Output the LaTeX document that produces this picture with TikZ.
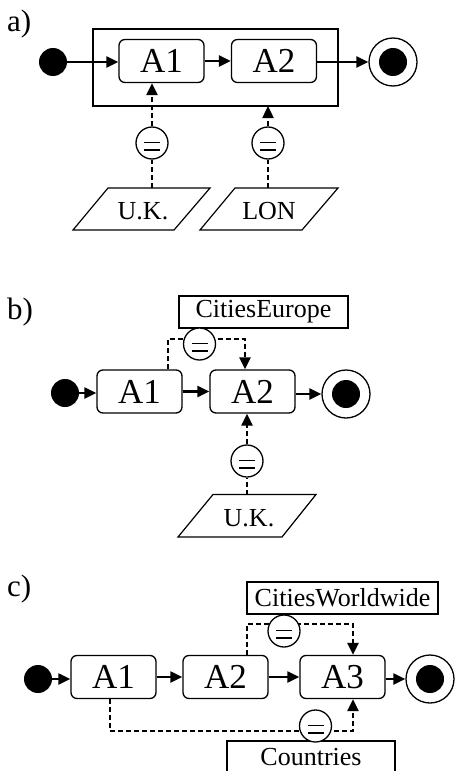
\documentclass[tikz,border=0pt]{standalone}
\usepackage{fontspec}
\setmainfont{Liberation Serif}
\usetikzlibrary{arrows.meta,calc,backgrounds}
% equality marker: white circle with two short bars
\newcommand\eqnode[3]{%
  \node[eqc] (#1) at (#2,#3) {};
  \draw[line width=1.1pt] ([shift={(-8,-0.5)}]#1.center) -- ++(16,0)
                          ([shift={(-8,7)}]#1.center) -- ++(16,0);}
\begin{document}
\begin{tikzpicture}[x=1pt,y=-1pt,
  act/.style={draw,rounded corners=6pt,line width=1.3pt,minimum width=85pt,
    minimum height=43pt,inner sep=0pt,font=\fontsize{35}{35}\selectfont},
  startdot/.style={circle,fill=black,minimum size=28pt,inner sep=0pt},
  enddot/.style={circle,draw,line width=1.3pt,minimum size=48pt,inner sep=0pt,
    path picture={\fill[black] (path picture bounding box.center) circle[radius=14pt];}},
  eqc/.style={circle,draw,fill=white,line width=1.3pt,minimum size=32pt,inner sep=0pt},
  databox/.style={draw,line width=1.2pt,inner sep=0pt,minimum height=32pt,
    font=\fontsize{26}{26}\selectfont},
  lbl/.style={inner sep=0pt,font=\fontsize{26}{26}\selectfont},
  flow/.style={line width=2.2pt,-{Triangle[length=12pt,width=11pt]}},
  dep/.style={line width=2.4pt,dash pattern=on 5pt off 3pt,-{Triangle[length=12pt,width=11pt]}},
  depline/.style={line width=2.4pt,dash pattern=on 5pt off 3pt},
  pane/.style={anchor=base west,inner sep=0pt,font=\fontsize{31}{31}\selectfont},
  para/.style={line width=1.2pt}
]
\useasboundingbox (0,0) rectangle (457,771);
\clip (0,0) rectangle (457,771);

% ---------------- a) ----------------
\node[pane] (pa) at (7,31) {a)};
\draw[line width=1.3pt] (93,29) rectangle (338,106);
\coordinate (grpbot) at (338,106);
\node[startdot] (sa) at (53,62) {};
\node[act] (aa1) at (161.5,61) {A1};
\node[act] (aa2) at (274,61) {A2};
\node[enddot] (ea) at (393,62) {};
\draw[flow] (sa) -- (sa -| aa1.west);
\draw[flow] (aa1) -- (aa2);
\draw[flow] (aa2.east |- ea) -- (ea);

\draw[para] (73,230) -- (108,188) -- (210,188) -- (174,230) -- cycle;
\node[lbl] (uka) at (143,211.5) {U.K.};
\coordinate (ukaT) at (152,188);
\draw[para] (200,230) -- (235,188) -- (338,188) -- (302,230) -- cycle;
\node[lbl] (lon) at (269,211.5) {LON};
\coordinate (lonT) at (268,188);

\eqnode{eqa1}{152}{143}
\eqnode{eqa2}{268}{143}
\draw[depline] (ukaT) -- (eqa1);
\draw[dep] (eqa1) -- (eqa1 |- aa1.south);
\draw[depline] (lonT) -- (eqa2);
\draw[dep] (eqa2) -- (eqa2 |- grpbot);

% ---------------- b) ----------------
\node[pane] (pb) at (7,319) {b)};
\node[databox,minimum width=169pt] (ceu) at (263.5,312) {CitiesEurope};
\node[startdot] (sb) at (65,393) {};
\node[act] (ba1) at (139.5,391.5) {A1};
\node[act] (ba2) at (252.5,391.5) {A2};
\node[enddot] (eb) at (346,394) {};
\draw[flow] (sb) -- (sb -| ba1.west);
\draw[flow] (ba1) -- (ba2);
\draw[flow] (ba2.east |- eb) -- (eb);

\eqnode{eqb1}{199.5}{344}
\coordinate (bt1) at (168,339);
\coordinate (bt2) at (245,339);
\begin{scope}[on background layer]
  \draw[dep] (bt1 |- ba1.north) -- (bt1) -- (bt2) -- (bt2 |- ba2.north);
\end{scope}

\draw[para] (178,537) -- (213,494.5) -- (316,494.5) -- (282,537) -- cycle;
\node[lbl] (ukb) at (249,518.5) {U.K.};
\coordinate (ukbT) at (247,494.5);
\eqnode{eqb2}{247}{461}
\draw[depline] (ukbT) -- (eqb2);
\draw[dep] (eqb2) -- (eqb2 |- ba2.south);

% ---------------- c) ----------------
\node[pane] (pc) at (7,596) {c)};
\node[databox,minimum width=191pt] (cww) at (342.5,598) {CitiesWorldwide};
\node[databox,minimum width=168pt] (cnt) at (311,757) {Countries};
\node[startdot] (sc) at (38,679) {};
\node[act] (ca1) at (113.5,677) {A1};
\node[act] (ca2) at (225.5,677) {A2};
\node[act] (ca3) at (342.5,677) {A3};
\node[enddot] (ec) at (430,679) {};
\draw[flow] (sc) -- (sc -| ca1.west);
\draw[flow] (ca1) -- (ca2);
\draw[flow] (ca2) -- (ca3);
\draw[flow] (ca3.east |- ec) -- (ec);

\eqnode{eqc1}{284}{631}
\eqnode{eqc2}{315.5}{726}
\coordinate (ct1) at (247,624);
\coordinate (ct2) at (353,624);
\coordinate (cb1) at (110,731);
\coordinate (cb2) at (353,731);
\begin{scope}[on background layer]
  \draw[dep] (ct1 |- ca2.north) -- (ct1) -- (ct2) -- (ct2 |- ca3.north);
  \draw[dep] (cb1 |- ca1.south) -- (cb1) -- (cb2) -- (cb2 |- ca3.south);
\end{scope}
\end{tikzpicture}
\end{document}
